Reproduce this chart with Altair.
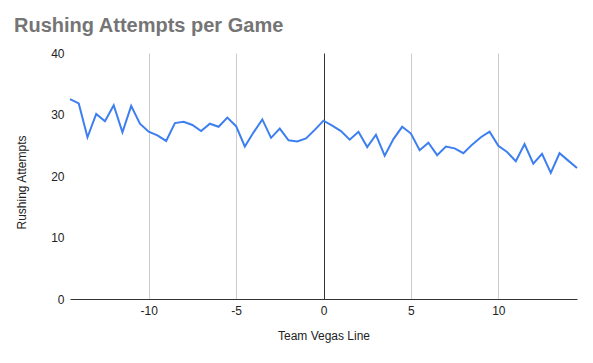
import altair as alt
import pandas as pd

vegas_line = [x / 2 for x in range(-29, 30)]
rushing_attempts = [
    32.5, 31.8, 26.3, 30.1, 28.9, 31.5, 27.1, 31.4, 28.5, 27.2,
    26.6, 25.7, 28.6, 28.8, 28.3, 27.3, 28.5, 28.0, 29.5, 28.1,
    24.8, 27.1, 29.2, 26.2, 27.7, 25.8, 25.6, 26.1, 27.5, 29.0,
    28.2, 27.3, 25.9, 27.2, 24.7, 26.7, 23.3, 26.0, 28.0, 26.9,
    24.2, 25.4, 23.4, 24.8, 24.5, 23.7, 25.1, 26.3, 27.2, 24.9,
    23.9, 22.4, 25.2, 22.0, 23.6, 20.5, 23.7, 22.5, 21.3,
]
x_ticks = [-10, -5, 0, 5, 10]
y_ticks = [0, 10, 20, 30, 40]

df = pd.DataFrame({"line": vegas_line, "att": rushing_attempts})

chart = (
    alt.Chart(df)
    .mark_line(color="#3d7ff0", strokeWidth=2)
    .encode(
        x=alt.X(
            "line:Q",
            scale=alt.Scale(domain=[-14.5, 14.5], nice=False, zero=False),
            axis=alt.Axis(
                title="Team Vegas Line",
                values=x_ticks,
                labelExpr="'' + datum.value",
                grid=True,
                gridColor={"condition": {"test": "datum.value === 0", "value": "#333333"}, "value": "#cccccc"},
                gridWidth=1,
                ticks=False,
                domain=True,
                domainColor="#333333",
                labelPadding=6,
                titlePadding=14,
            ),
        ),
        y=alt.Y(
            "att:Q",
            scale=alt.Scale(domain=[0, 40], nice=False),
            axis=alt.Axis(
                title="Rushing Attempts",
                values=y_ticks,
                grid=False,
                ticks=False,
                domain=False,
                labelPadding=6,
                titleX=-49,
                titleY=129,
                titleBaseline="middle",
            ),
        ),
    )
    .properties(
        width=507,
        height=246,
        autosize=alt.AutoSizeParams(type="none"),
        padding={"left": 62, "top": 45, "right": 8, "bottom": 48},
        title=alt.TitleParams(
            text="Rushing Attempts per Game",
            anchor="start",
            frame="group",
            dx=-56,
            offset=11,
            fontSize=20,
            fontWeight="bold",
            color="#757575",
            font="Liberation Sans",
        ),
    )
    .configure_view(stroke=None)
    .configure_axis(
        labelFont="Liberation Sans",
        titleFont="Liberation Sans",
        labelFontSize=12,
        titleFontSize=12,
        labelColor="#222222",
        titleColor="#222222",
        titleFontWeight="normal",
    )
)

chart.save("out.html", embed_options={"renderer": "svg", "actions": False})
